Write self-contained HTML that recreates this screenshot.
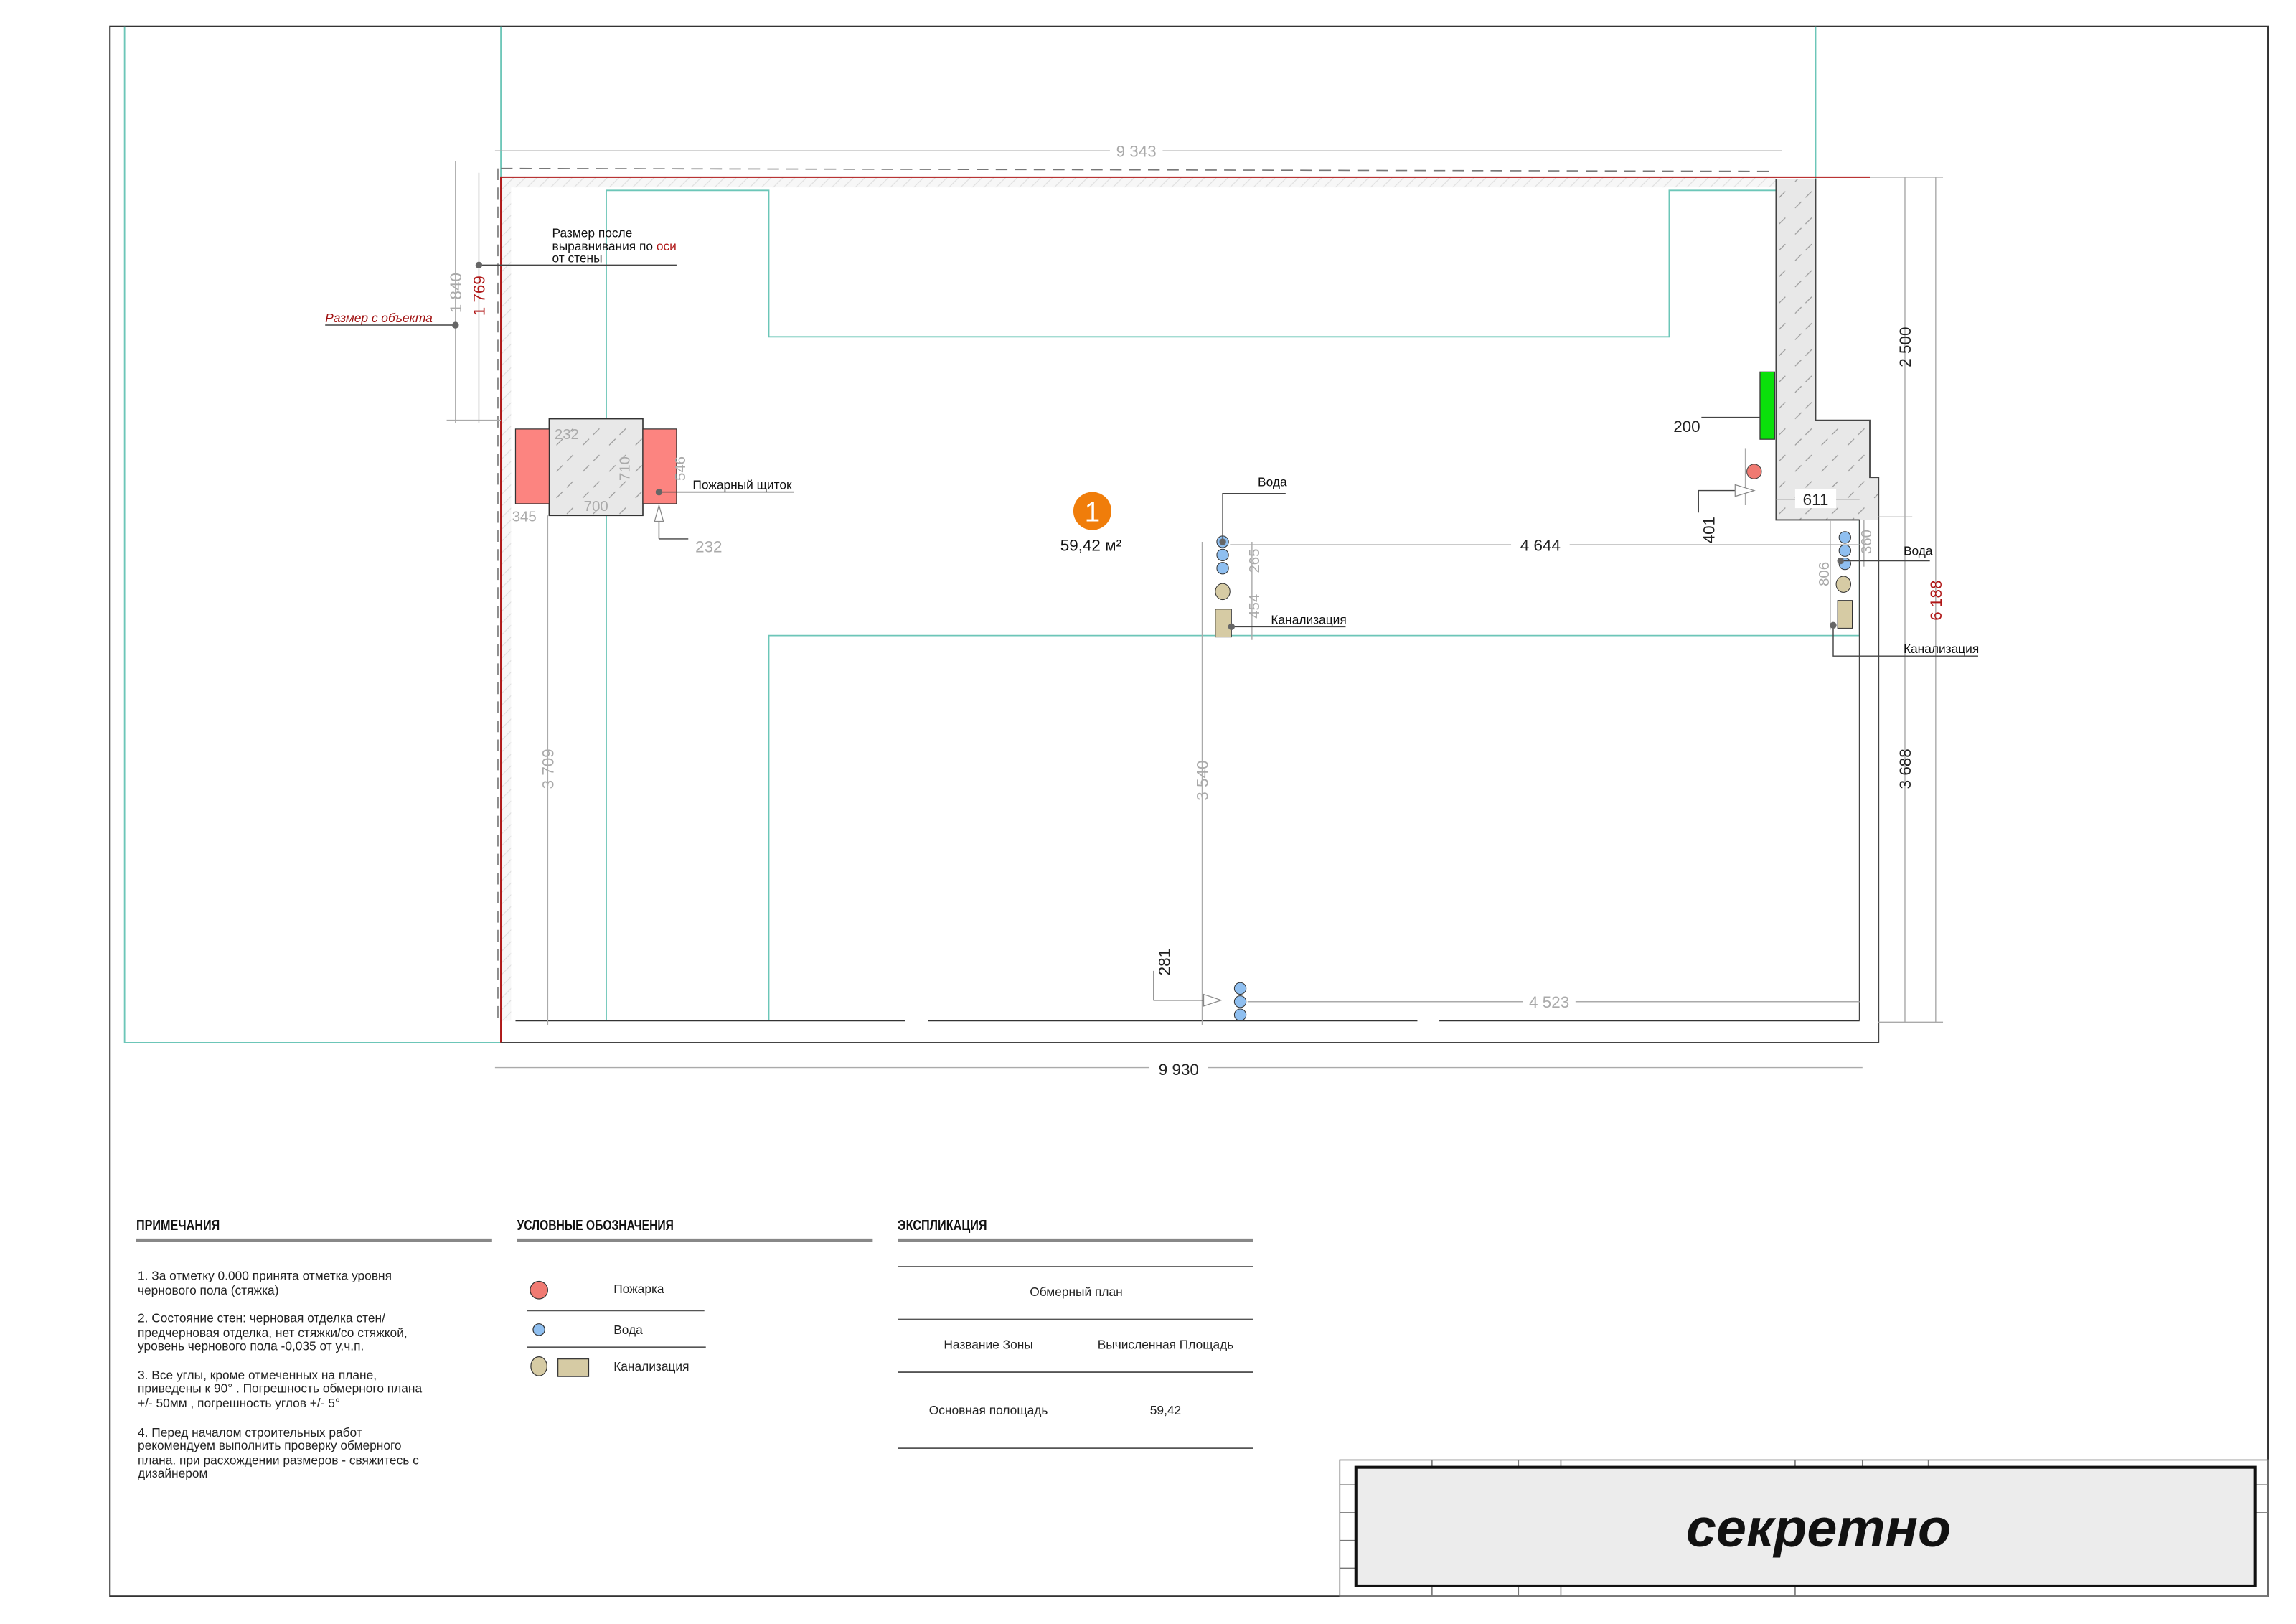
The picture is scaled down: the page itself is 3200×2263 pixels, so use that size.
<!DOCTYPE html>
<html><head><meta charset="utf-8"><style>html,body{margin:0;padding:0;background:#fff}svg{display:block}text{font-family:"Liberation Sans","DejaVu Sans",sans-serif}</style></head><body>
<svg width="3200" height="2263" viewBox="0 0 1568 1109" xmlns="http://www.w3.org/2000/svg">
<defs>
<pattern id="h" width="18" height="18" patternUnits="userSpaceOnUse"><rect width="18" height="18" fill="#e8e8e8"/><path d="M2 16 L14 4" stroke="#999" stroke-width="0.6" stroke-dasharray="6 4"/></pattern>
<pattern id="hs" width="8" height="8" patternUnits="userSpaceOnUse"><rect width="8" height="8" fill="#f7f7f7"/><path d="M0 8 L8 0" stroke="#ddd" stroke-width="0.5"/></pattern>
</defs>
<rect width="1568" height="1109" fill="#fff"/>
<rect x="75" y="18" width="1474" height="1072" fill="none" stroke="#333" stroke-width="1"/>
<g stroke="#6cc6b8" stroke-width="0.9" fill="none">
<path d="M85 18 V712 H342"/><path d="M342 18 V712"/><path d="M1240 18 V122"/>
<path d="M414 697 V130 H525 V230 H1140 V130 H1213"/>
<path d="M525 697 V434 H1270 V355"/>
</g>
<rect x="342" y="121" width="871" height="7" fill="url(#hs)"/>
<rect x="342" y="121" width="7" height="576" fill="url(#hs)"/>
<path d="M342 115 L1213 117" stroke="#777" stroke-width="0.8" stroke-dasharray="8 5" fill="none"/>
<path d="M340 115 V700" stroke="#777" stroke-width="0.8" stroke-dasharray="8 5" fill="none"/>
<path d="M342 712 V121 H1277" stroke="#b01818" stroke-width="1" fill="none"/>
<path d="M1213 122 H1240 V287 H1277 V326 H1283 V355 H1213 Z" fill="url(#h)"/>
<path d="M1213 122 V355 H1270 M1240 122 V287 H1277 V326 H1283 V712 H342 M1270 355 V697" stroke="#444" stroke-width="0.9" fill="none"/>
<path d="M352 697 H618 M634 697 H968 M983 697 H1270" stroke="#333" stroke-width="1" fill="none"/>
<rect x="1202" y="254" width="10" height="46" fill="#0be00b" stroke="#333" stroke-width="0.6"/>
<circle cx="1198" cy="322" r="5" fill="#f07a72" stroke="#444" stroke-width="0.5"/>
<rect x="375" y="286" width="64" height="66" fill="url(#h)" stroke="#333" stroke-width="0.8"/>
<rect x="352" y="293" width="23" height="51" fill="#fc8480" stroke="#333" stroke-width="0.6"/>
<rect x="439" y="293" width="23" height="51" fill="#fc8480" stroke="#333" stroke-width="0.6"/>
<g stroke="#333" stroke-width="0.5">
<circle cx="835" cy="370" r="4" fill="#8fbff0"/><circle cx="835" cy="379" r="4" fill="#8fbff0"/><circle cx="835" cy="388" r="4" fill="#8fbff0"/>
<ellipse cx="835" cy="404" rx="5" ry="5.5" fill="#d6cba4"/><rect x="830" y="416" width="11" height="19" fill="#d6cba4"/>
<circle cx="1260" cy="367" r="4" fill="#8fbff0"/><circle cx="1260" cy="376" r="4" fill="#8fbff0"/><circle cx="1260" cy="385" r="4" fill="#8fbff0"/>
<ellipse cx="1259" cy="399" rx="5" ry="5.5" fill="#d6cba4"/><rect x="1255" y="410" width="10" height="19" fill="#d6cba4"/>
<circle cx="847" cy="675" r="4" fill="#8fbff0"/><circle cx="847" cy="684" r="4" fill="#8fbff0"/><circle cx="847" cy="693" r="4" fill="#8fbff0"/>
</g>
<circle cx="746" cy="349" r="13" fill="#f07d0a"/>
<text x="746" y="356" font-size="19" fill="#fff" text-anchor="middle">1</text>
<text x="745" y="376" font-size="11" text-anchor="middle" fill="#111">59,42 м²</text>
<g stroke="#aaa" stroke-width="0.7" fill="none">
<path d="M338 103 H1217"/><path d="M311 110 V289"/><path d="M327 118 V289"/>
<path d="M305 287 H342"/><path d="M1301 121 V698"/><path d="M1322 121 V698"/><path d="M1277 121 H1327 M1283 353 H1306 M1283 698 H1327"/>
<path d="M338 729 H1272"/><path d="M374 352 V700"/><path d="M821 370 V700"/><path d="M840 372 H1270"/>
<path d="M852 684 H1270"/><path d="M855 370 V437"/><path d="M1250 355 V430"/><path d="M1273 355 V387"/><path d="M1213 341 H1270"/>
<path d="M1192 306 V345"/>
</g>
<g font-size="11" fill="#aaa" text-anchor="middle">
<rect x="758" y="97" width="36" height="12" fill="#fff"/><text x="776" y="107">9 343</text>
<rect x="785" y="723" width="40" height="12" fill="#fff"/><text x="805" y="734" fill="#222">9 930</text>
<rect x="1032" y="366" width="40" height="12" fill="#fff"/><text x="1052" y="376" fill="#222">4 644</text>
<rect x="1040" y="678" width="36" height="12" fill="#fff"/><text x="1058" y="688">4 523</text>
<rect x="1226" y="334" width="28" height="13" fill="#fff"/><text x="1240" y="345" fill="#222">611</text>
<text transform="translate(315,200) rotate(-90)">1 840</text>
<text transform="translate(331,202) rotate(-90)" fill="#b01818">1 769</text>
<text transform="translate(1305,237) rotate(-90)" fill="#222">2 500</text>
<text transform="translate(1326,410) rotate(-90)" fill="#b01818">6 188</text>
<text transform="translate(1305,525) rotate(-90)" fill="#222">3 688</text>
<text transform="translate(378,525) rotate(-90)">3 709</text>
<text transform="translate(825,533) rotate(-90)">3 540</text>
<text transform="translate(860,383) rotate(-90)" font-size="10">265</text>
<text transform="translate(860,414) rotate(-90)" font-size="10">454</text>
<text transform="translate(1249,392) rotate(-90)" font-size="10">806</text>
<text transform="translate(1278,370) rotate(-90)" font-size="10">360</text>
<text transform="translate(1171,362) rotate(-90)" fill="#222">401</text>
<text transform="translate(799,657) rotate(-90)" fill="#222">281</text>
<text x="1152" y="295" fill="#222">200</text>
<text x="387" y="300" font-size="10">232</text>
<text x="430" y="320" font-size="10" transform="rotate(-90 430 320)">710</text>
<text x="468" y="320" font-size="10" transform="rotate(-90 468 320)">546</text>
<text x="407" y="349" font-size="10">700</text>
<text x="358" y="356" font-size="10">345</text>
<text x="484" y="377">232</text>
</g>
<g stroke="#444" stroke-width="0.7" fill="none">
<path d="M222 222 H311"/><path d="M327 181 H462"/><path d="M450 336 H542"/><path d="M450 368 H470 M450 348 V368"/>
<path d="M835 370 V337 H878"/><path d="M841 428 H919"/><path d="M1257 383 H1318"/><path d="M1252 427 V448 H1351"/>
<path d="M1160 350 V335 H1185"/><path d="M1162 285 H1202"/><path d="M788 663 V683 H822"/>
</g>
<g fill="#fff" stroke="#888" stroke-width="0.6"><path d="M1185 331 L1198 335 L1185 339 Z"/><path d="M822 679 L834 683 L822 687 Z"/><path d="M447 356 L450 345 L453 356 Z"/></g>
<g fill="#666"><circle cx="311" cy="222" r="2.3"/><circle cx="327" cy="181" r="2.3"/><circle cx="450" cy="336" r="2.3"/><circle cx="835" cy="370" r="2.3"/><circle cx="841" cy="428" r="2.3"/><circle cx="1257" cy="383" r="2.3"/><circle cx="1252" cy="427" r="2.3"/></g>
<g font-size="8.5" fill="#111">
<text x="222" y="220" fill="#a01010" font-style="italic">Размер с объекта</text>
<text x="377" y="162">Размер после</text><text x="377" y="171">выравнивания по <tspan fill="#b01818">оси</tspan></text><text x="377" y="179">от стены</text>
<text x="473" y="334">Пожарный щиток</text>
<text x="859" y="332">Вода</text><text x="868" y="426">Канализация</text>
<text x="1300" y="379">Вода</text><text x="1300" y="446">Канализация</text>
</g>
<g font-size="10" font-weight="bold" fill="#111">
<text x="93" y="840" textLength="57" lengthAdjust="spacingAndGlyphs">ПРИМЕЧАНИЯ</text>
<text x="353" y="840" textLength="107" lengthAdjust="spacingAndGlyphs">УСЛОВНЫЕ ОБОЗНАЧЕНИЯ</text>
<text x="613" y="840" textLength="61" lengthAdjust="spacingAndGlyphs">ЭКСПЛИКАЦИЯ</text>
</g>
<g stroke="#888" stroke-width="2.5"><path d="M93 847 H336 M353 847 H596 M613 847 H856"/></g>
<g font-size="8.5" fill="#222">
<text x="94" y="874">1. За отметку 0.000 принята отметка уровня</text><text x="94" y="884">чернового пола (стяжка)</text>
<text x="94" y="903">2. Состояние стен: черновая отделка стен/</text><text x="94" y="913">предчерновая отделка, нет стяжки/со стяжкой,</text><text x="94" y="922">уровень чернового пола -0,035 от у.ч.п.</text>
<text x="94" y="942">3. Все углы, кроме отмеченных на плане,</text><text x="94" y="951">приведены к 90° . Погрешность обмерного плана</text><text x="94" y="961">+/- 50мм , погрешность углов +/- 5°</text>
<text x="94" y="981">4. Перед началом строительных работ</text><text x="94" y="990">рекомендуем выполнить проверку обмерного</text><text x="94" y="1000">плана. при расхождении размеров - свяжитесь с</text><text x="94" y="1009">дизайнером</text>
<text x="419" y="883">Пожарка</text><text x="419" y="911">Вода</text><text x="419" y="936">Канализация</text>
<text x="735" y="885" text-anchor="middle">Обмерный план</text>
<text x="675" y="921" text-anchor="middle">Название Зоны</text><text x="796" y="921" text-anchor="middle">Вычисленная Площадь</text>
<text x="675" y="966" text-anchor="middle">Основная полощадь</text><text x="796" y="966" text-anchor="middle">59,42</text>
</g>
<g stroke="#333" stroke-width="0.6">
<circle cx="368" cy="881" r="6" fill="#f07a72"/><circle cx="368" cy="908" r="4" fill="#8fbff0"/>
<ellipse cx="368" cy="933" rx="5.5" ry="6.5" fill="#d6cba4"/><rect x="381" y="928" width="21" height="12" fill="#d6cba4"/>
</g>
<g stroke="#555" stroke-width="0.9"><path d="M360 895 H481 M360 920 H482 M613 865 H856 M613 901 H856 M613 937 H856 M613 989 H856"/></g>
<g stroke="#777" stroke-width="0.8" fill="none">
<rect x="915" y="997" width="634" height="93"/>
<path d="M915 1014 H926 M915 1033 H926 M915 1052 H926 M915 1071 H926 M1540 1014 H1549 M1540 1033 H1549"/>
<path d="M978 997 V1002 M1037 997 V1002 M1066 997 V1002 M1226 997 V1002 M1272 997 V1002 M1317 997 V1002 M978 1083 V1090 M1037 1083 V1090 M1066 1083 V1090 M1226 1083 V1090"/>
</g>
<rect x="926" y="1002" width="614" height="81" fill="#ececec" stroke="#111" stroke-width="2"/>
<text x="1242" y="1056" font-size="37" font-weight="bold" font-style="italic" text-anchor="middle" fill="#111">секретно</text>
</svg>
</body></html>
